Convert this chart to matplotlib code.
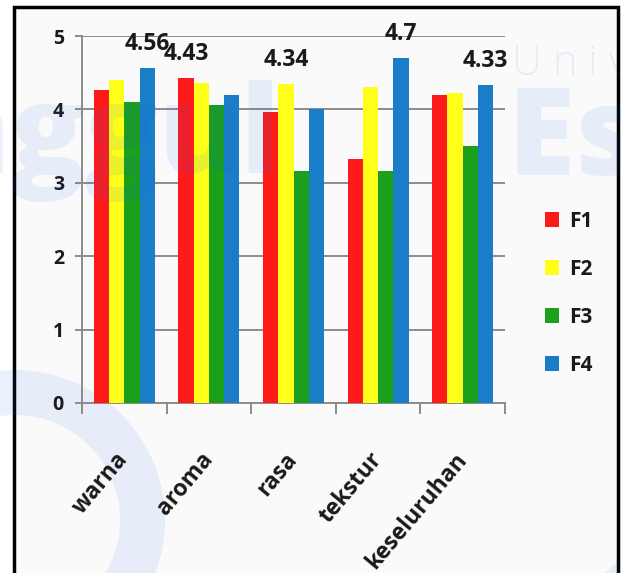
import numpy as np
import matplotlib
matplotlib.use('Agg')
import matplotlib.pyplot as plt
from matplotlib.patches import Rectangle, Wedge, Circle

categories = ['warna', 'aroma', 'rasa', 'tekstur', 'keseluruhan']
series_names = ['F1', 'F2', 'F3', 'F4']
f1 = [4.26, 4.43, 3.96, 3.33, 4.20]
f2 = [4.40, 4.36, 4.34, 4.30, 4.23]
f3 = [4.10, 4.06, 3.16, 3.16, 3.50]
f4 = [4.56, 4.20, 4.00, 4.70, 4.33]
colors = ['#ff1a1a', '#ffff1a', '#1aa01a', '#1a7dc8']
y_ticks = [0, 1, 2, 3, 4, 5]


def main():
	'''draw the grouped bar chart'''
	plt.rcParams['font.family'] = ['Open Sans', 'DejaVu Sans']
	plt.rcParams['font.weight'] = 'bold'

	fig = plt.figure(figsize=(6.21, 5.73), dpi=100, facecolor='white')

	# grey panel with a black frame behind everything
	fig.patches.append(Rectangle((14 / 621, -0.02), 604 / 621, 1.02 - 7 / 573,
		transform=fig.transFigure, fc='#fafafa', ec='black', lw=2.5, zorder=-10))

	ax = fig.add_axes([82 / 621, 170 / 573, 423 / 621, 367 / 573])
	ax.set_facecolor('none')

	data = [f1, f2, f3, f4]
	x = np.arange(len(categories))
	w = 0.18
	for i, (name, vals) in enumerate(zip(series_names, data)):
		ax.bar(x + (i - 1.5) * w, vals, w, color=colors[i], label=name, zorder=3)

	# label the tallest bar of each group
	arr = np.array(data)
	for j in range(len(categories)):
		k = int(np.argmax(arr[:, j]))
		v = arr[k, j]
		ax.annotate('{:g}'.format(v), (x[j] + (k - 1.5) * w, v), xytext=(0, 13),
			textcoords='offset points', ha='center', va='baseline',
			fontsize=16.5, fontweight='bold', color='#1a1a1a', zorder=5,
			annotation_clip=False)

	ax.set_xlim(-0.5, len(categories) - 0.5)
	ax.set_ylim(0, 5)
	ax.set_yticks(y_ticks)
	ax.set_yticklabels([str(t) for t in y_ticks], fontsize=14, fontweight='bold', color='#1a1a1a')
	ax.yaxis.grid(True, color='#8c8c8c', lw=1.4, zorder=0)
	ax.tick_params(axis='y', length=5, width=1.4, color='#8c8c8c', pad=8)

	ax.set_xticks(x)
	ax.set_xticklabels(categories, rotation=50, ha='right', rotation_mode='anchor',
		va='center', fontsize=16.5, fontweight='bold', color='#1a1a1a')
	ax.tick_params(axis='x', which='major', length=0, pad=38)
	ax.set_xticks(np.arange(len(categories) + 1) - 0.5, minor=True)
	ax.tick_params(axis='x', which='minor', length=8, width=1.4, color='#8c8c8c')

	for s in ['top', 'right']:
		ax.spines[s].set_visible(False)
	for s in ['left', 'bottom']:
		ax.spines[s].set_color('#8c8c8c')
		ax.spines[s].set_linewidth(1.4)

	leg = fig.legend(loc='upper left', bbox_to_anchor=(526 / 621, 1 - 192 / 573),
		frameon=False, handlelength=0.7, handleheight=0.7,
		labelspacing=1.3, handletextpad=0.45, prop={'weight': 'bold', 'size': 15})
	for t in leg.get_texts():
		t.set_color('#1a1a1a')

	# faint watermark of the background slide
	wm = (0.12, 0.39, 0.9)
	fig.text(280 / 621, 1 - 173 / 573, 'Unggul', fontsize=88, fontweight='heavy',
		color=wm, alpha=0.09, ha='right', va='baseline', zorder=10)
	fig.text(508 / 621, 1 - 175 / 573, 'Esa', fontsize=88, fontweight='heavy',
		color=wm, alpha=0.09, ha='left', va='baseline', zorder=10)
	fig.text(512 / 621, 1 - 75 / 573, 'U n i v e r s i t a s', fontsize=30,
		fontweight='light', color=wm, alpha=0.09, ha='left', va='baseline', zorder=10)
	px = fig.dpi_scale_trans
	fig.patches.append(Wedge((15 / 100, (573 - 520) / 100), 1.5, 0, 360, width=0.45,
		transform=px, color=wm, alpha=0.09, lw=0, zorder=-5))
	fig.patches.append(Circle((680 / 100, (573 - 640) / 100), 1.0,
		transform=px, color=wm, alpha=0.09, lw=0, zorder=-5))

	fig.savefig('out.png', dpi=100, facecolor='white')


if __name__ == '__main__':
	main()
